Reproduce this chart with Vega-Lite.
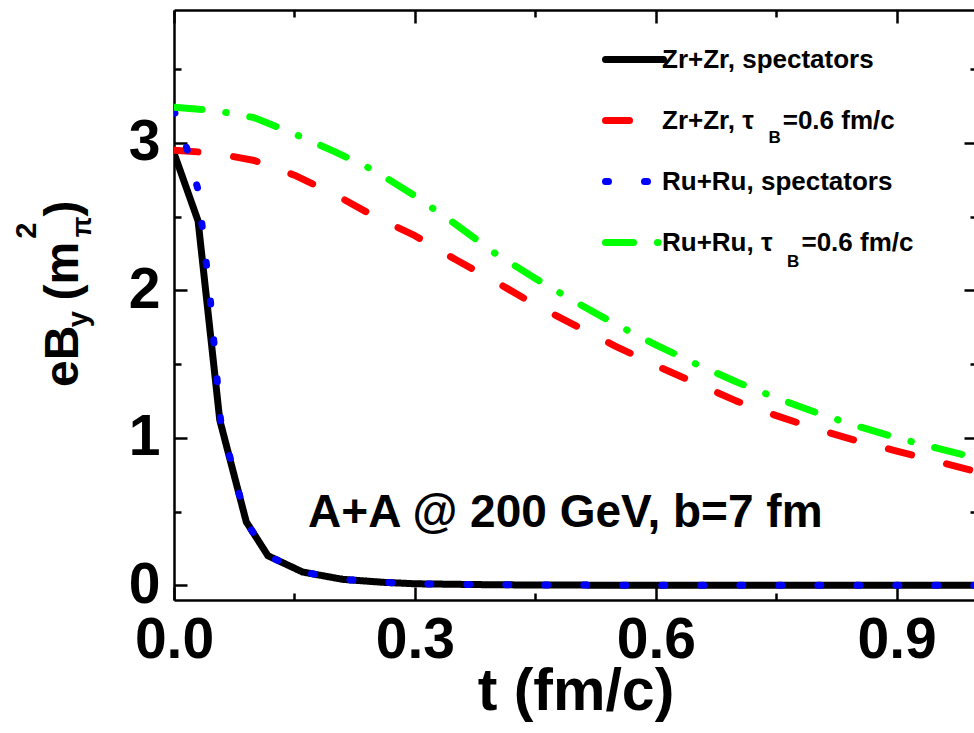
{
  "$schema": "https://vega.github.io/schema/vega-lite/v6.json",
  "width": 803,
  "height": 590,
  "autosize": {"type": "none"},
  "padding": {"left": 174, "top": 10, "right": 0, "bottom": 133},
  "background": "white",
  "config": {
    "view": {"stroke": null},
    "font": "Liberation Sans",
    "axis": {
      "domainColor": "black", "domainWidth": 2.5, "tickColor": "black", "tickWidth": 2.5,
      "labelFont": "Liberation Sans", "labelFontWeight": "bold", "labelFontSize": 57, "labelColor": "black",
      "grid": false, "titleFont": "Liberation Sans", "titleFontWeight": "bold", "titleColor": "black",
      "labelOverlap": false, "labelFlush": false
    }
  },
  "datasets": {
    "curves": [
      {"series": "Zr+Zr, spectators", "t": 0, "eB": 2.93},
      {"series": "Zr+Zr, spectators", "t": 0.03, "eB": 2.47},
      {"series": "Zr+Zr, spectators", "t": 0.057, "eB": 1.12},
      {"series": "Zr+Zr, spectators", "t": 0.09, "eB": 0.43},
      {"series": "Zr+Zr, spectators", "t": 0.117, "eB": 0.2},
      {"series": "Zr+Zr, spectators", "t": 0.16, "eB": 0.09},
      {"series": "Zr+Zr, spectators", "t": 0.21, "eB": 0.04},
      {"series": "Zr+Zr, spectators", "t": 0.26, "eB": 0.02},
      {"series": "Zr+Zr, spectators", "t": 0.3, "eB": 0.01},
      {"series": "Zr+Zr, spectators", "t": 0.4, "eB": 0.003},
      {"series": "Zr+Zr, spectators", "t": 0.5, "eB": 0.001},
      {"series": "Zr+Zr, spectators", "t": 0.6, "eB": 0},
      {"series": "Zr+Zr, spectators", "t": 0.7, "eB": 0},
      {"series": "Zr+Zr, spectators", "t": 0.8, "eB": 0},
      {"series": "Zr+Zr, spectators", "t": 0.9, "eB": 0},
      {"series": "Zr+Zr, spectators", "t": 1.0, "eB": 0},
      {"series": "Zr+Zr, τ_B=0.6 fm/c", "t": 0, "eB": 2.95},
      {"series": "Zr+Zr, τ_B=0.6 fm/c", "t": 0.05, "eB": 2.93},
      {"series": "Zr+Zr, τ_B=0.6 fm/c", "t": 0.1, "eB": 2.88},
      {"series": "Zr+Zr, τ_B=0.6 fm/c", "t": 0.15, "eB": 2.78},
      {"series": "Zr+Zr, τ_B=0.6 fm/c", "t": 0.2, "eB": 2.65},
      {"series": "Zr+Zr, τ_B=0.6 fm/c", "t": 0.25, "eB": 2.5},
      {"series": "Zr+Zr, τ_B=0.6 fm/c", "t": 0.3, "eB": 2.37},
      {"series": "Zr+Zr, τ_B=0.6 fm/c", "t": 0.35, "eB": 2.21},
      {"series": "Zr+Zr, τ_B=0.6 fm/c", "t": 0.4, "eB": 2.06},
      {"series": "Zr+Zr, τ_B=0.6 fm/c", "t": 0.45, "eB": 1.9},
      {"series": "Zr+Zr, τ_B=0.6 fm/c", "t": 0.5, "eB": 1.76},
      {"series": "Zr+Zr, τ_B=0.6 fm/c", "t": 0.55, "eB": 1.62},
      {"series": "Zr+Zr, τ_B=0.6 fm/c", "t": 0.6, "eB": 1.49},
      {"series": "Zr+Zr, τ_B=0.6 fm/c", "t": 0.65, "eB": 1.37},
      {"series": "Zr+Zr, τ_B=0.6 fm/c", "t": 0.7, "eB": 1.25},
      {"series": "Zr+Zr, τ_B=0.6 fm/c", "t": 0.75, "eB": 1.15},
      {"series": "Zr+Zr, τ_B=0.6 fm/c", "t": 0.8, "eB": 1.06},
      {"series": "Zr+Zr, τ_B=0.6 fm/c", "t": 0.85, "eB": 0.98},
      {"series": "Zr+Zr, τ_B=0.6 fm/c", "t": 0.9, "eB": 0.91},
      {"series": "Zr+Zr, τ_B=0.6 fm/c", "t": 0.95, "eB": 0.84},
      {"series": "Zr+Zr, τ_B=0.6 fm/c", "t": 1.0, "eB": 0.77},
      {"series": "Ru+Ru, spectators", "t": 0, "eB": 3.22},
      {"series": "Ru+Ru, spectators", "t": 0.015, "eB": 2.98},
      {"series": "Ru+Ru, spectators", "t": 0.03, "eB": 2.68},
      {"series": "Ru+Ru, spectators", "t": 0.045, "eB": 1.95},
      {"series": "Ru+Ru, spectators", "t": 0.058, "eB": 1.12},
      {"series": "Ru+Ru, spectators", "t": 0.09, "eB": 0.43},
      {"series": "Ru+Ru, spectators", "t": 0.117, "eB": 0.2},
      {"series": "Ru+Ru, spectators", "t": 0.16, "eB": 0.09},
      {"series": "Ru+Ru, spectators", "t": 0.21, "eB": 0.04},
      {"series": "Ru+Ru, spectators", "t": 0.26, "eB": 0.02},
      {"series": "Ru+Ru, spectators", "t": 0.3, "eB": 0.01},
      {"series": "Ru+Ru, spectators", "t": 0.4, "eB": 0.003},
      {"series": "Ru+Ru, spectators", "t": 0.5, "eB": 0.001},
      {"series": "Ru+Ru, spectators", "t": 0.6, "eB": 0},
      {"series": "Ru+Ru, spectators", "t": 0.7, "eB": 0},
      {"series": "Ru+Ru, spectators", "t": 0.8, "eB": 0},
      {"series": "Ru+Ru, spectators", "t": 0.9, "eB": 0},
      {"series": "Ru+Ru, spectators", "t": 1.0, "eB": 0},
      {"series": "Ru+Ru, τ_B=0.6 fm/c", "t": 0, "eB": 3.24},
      {"series": "Ru+Ru, τ_B=0.6 fm/c", "t": 0.05, "eB": 3.22},
      {"series": "Ru+Ru, τ_B=0.6 fm/c", "t": 0.1, "eB": 3.17},
      {"series": "Ru+Ru, τ_B=0.6 fm/c", "t": 0.15, "eB": 3.06},
      {"series": "Ru+Ru, τ_B=0.6 fm/c", "t": 0.2, "eB": 2.94},
      {"series": "Ru+Ru, τ_B=0.6 fm/c", "t": 0.25, "eB": 2.81},
      {"series": "Ru+Ru, τ_B=0.6 fm/c", "t": 0.3, "eB": 2.64},
      {"series": "Ru+Ru, τ_B=0.6 fm/c", "t": 0.35, "eB": 2.45},
      {"series": "Ru+Ru, τ_B=0.6 fm/c", "t": 0.4, "eB": 2.25},
      {"series": "Ru+Ru, τ_B=0.6 fm/c", "t": 0.45, "eB": 2.08},
      {"series": "Ru+Ru, τ_B=0.6 fm/c", "t": 0.5, "eB": 1.92},
      {"series": "Ru+Ru, τ_B=0.6 fm/c", "t": 0.55, "eB": 1.77},
      {"series": "Ru+Ru, τ_B=0.6 fm/c", "t": 0.6, "eB": 1.63},
      {"series": "Ru+Ru, τ_B=0.6 fm/c", "t": 0.65, "eB": 1.5},
      {"series": "Ru+Ru, τ_B=0.6 fm/c", "t": 0.7, "eB": 1.38},
      {"series": "Ru+Ru, τ_B=0.6 fm/c", "t": 0.75, "eB": 1.27},
      {"series": "Ru+Ru, τ_B=0.6 fm/c", "t": 0.8, "eB": 1.17},
      {"series": "Ru+Ru, τ_B=0.6 fm/c", "t": 0.85, "eB": 1.08},
      {"series": "Ru+Ru, τ_B=0.6 fm/c", "t": 0.9, "eB": 1.0},
      {"series": "Ru+Ru, τ_B=0.6 fm/c", "t": 0.95, "eB": 0.93},
      {"series": "Ru+Ru, τ_B=0.6 fm/c", "t": 1.0, "eB": 0.86}
    ],
    "one": [{"k": 1}]
  },
  "layer": [
    {
      "data": {"name": "curves"},
      "mark": {"type": "line", "strokeWidth": 7, "strokeCap": "round", "strokeJoin": "round", "clip": true},
      "encoding": {
        "x": {
          "field": "t", "type": "quantitative",
          "scale": {"domain": [0, 1], "nice": false, "zero": false},
          "axis": {
            "orient": "bottom", "values": [0, 0.15, 0.3, 0.45, 0.6, 0.75, 0.9],
            "labelExpr": "round(datum.value*100) % 30 == 0 ? format(datum.value, '.1f') : ''",
            "tickSize": {"condition": {"test": "round(datum.value*100) % 30 == 0", "value": -13}, "value": -7},
            "labelPadding": 25, "title": "t (fm/c)", "titleFontSize": 59, "titlePadding": -12
          }
        },
        "y": {
          "field": "eB", "type": "quantitative",
          "scale": {"domain": [-0.1, 3.9], "nice": false, "zero": false},
          "axis": {
            "orient": "left", "values": [0, 0.5, 1, 1.5, 2, 2.5, 3, 3.5],
            "labelExpr": "datum.value % 1 == 0 ? format(datum.value, 'd') : ''",
            "tickSize": {"condition": {"test": "datum.value % 1 == 0", "value": -13}, "value": -7},
            "labelPadding": 27, "title": null
          }
        },
        "color": {
          "field": "series", "type": "nominal",
          "scale": {
            "domain": ["Zr+Zr, spectators", "Zr+Zr, τ_B=0.6 fm/c", "Ru+Ru, spectators", "Ru+Ru, τ_B=0.6 fm/c"],
            "range": ["#000000", "#ff0000", "#0000ff", "#00ff00"]
          },
          "legend": {
            "orient": "none", "legendX": 428, "legendY": 17, "title": null,
            "symbolType": "stroke", "symbolSize": 3364, "symbolStrokeWidth": 7,
            "labelFontSize": 26, "labelFont": "Liberation Sans", "labelFontWeight": "bold", "labelColor": "black",
            "labelOffset": -5, "rowPadding": 14, "labelLimit": 400,
            "labelExpr": "replace(datum.label, '_B', '\u00a0\u00a0\u00a0\u00a0')",
            "encode": {"symbols": {"update": {"strokeCap": {"value": "round"}}}}
          }
        },
        "strokeDash": {
          "field": "series", "type": "nominal",
          "scale": {
            "domain": ["Zr+Zr, spectators", "Zr+Zr, τ_B=0.6 fm/c", "Ru+Ru, spectators", "Ru+Ru, τ_B=0.6 fm/c"],
            "range": [[1, 0], [24, 36], [3, 36], [28, 24, 0.5, 24]]
          },
          "legend": {
            "orient": "none", "legendX": 428, "legendY": 17, "title": null,
            "symbolType": "stroke", "symbolSize": 3364, "symbolStrokeWidth": 7,
            "labelFontSize": 26, "labelFont": "Liberation Sans", "labelFontWeight": "bold", "labelColor": "black",
            "labelOffset": -5, "rowPadding": 14, "labelLimit": 400,
            "labelExpr": "replace(datum.label, '_B', '\u00a0\u00a0\u00a0\u00a0')",
            "encode": {"symbols": {"update": {"strokeCap": {"value": "round"}}}}
          }
        }
      }
    },
    {
      "data": {"values": [{"t": 0, "eB": 0}]},
      "mark": {"type": "point", "opacity": 0},
      "encoding": {
        "x": {
          "field": "t", "type": "quantitative",
          "scale": {"domain": [0, 1], "nice": false, "zero": false},
          "axis": {
            "orient": "top", "values": [0, 0.15, 0.3, 0.45, 0.6, 0.75, 0.9], "labels": false, "title": null,
            "tickSize": {"condition": {"test": "round(datum.value*100) % 30 == 0", "value": -13}, "value": -7}
          }
        },
        "y": {
          "field": "eB", "type": "quantitative",
          "scale": {"domain": [-0.1, 3.9], "nice": false, "zero": false},
          "axis": {
            "orient": "right", "values": [0, 0.5, 1, 1.5, 2, 2.5, 3, 3.5], "labels": false, "title": null,
            "tickSize": {"condition": {"test": "datum.value % 1 == 0", "value": -13}, "value": -7}
          }
        }
      }
    },
    {
      "data": {"name": "one"},
      "mark": {"type": "text", "text": "A+A @ 200 GeV, b=7 fm", "font": "Liberation Sans", "fontWeight": "bold", "fontSize": 46, "align": "left", "baseline": "alphabetic", "color": "black"},
      "encoding": {"x": {"datum": 0.167, "type": "quantitative", "axis": null}, "y": {"datum": 0.395, "type": "quantitative", "axis": null}}
    },
    {
      "data": {"name": "one"},
      "mark": {"type": "text", "text": "B", "font": "Liberation Sans", "fontWeight": "bold", "fontSize": 17, "align": "center", "baseline": "middle", "color": "black"},
      "encoding": {"x": {"datum": 0.748, "type": "quantitative", "axis": null}, "y": {"datum": 3.03, "type": "quantitative", "axis": null}}
    },
    {
      "data": {"name": "one"},
      "mark": {"type": "text", "text": "B", "font": "Liberation Sans", "fontWeight": "bold", "fontSize": 17, "align": "center", "baseline": "middle", "color": "black"},
      "encoding": {"x": {"datum": 0.771, "type": "quantitative", "axis": null}, "y": {"datum": 2.19, "type": "quantitative", "axis": null}}
    },
    {
      "data": {"name": "one"},
      "mark": {"type": "text", "text": "eB", "font": "Liberation Sans", "fontWeight": "bold", "fontSize": 48, "angle": 270, "align": "left", "baseline": "alphabetic", "color": "black"},
      "encoding": {"x": {"datum": -0.12, "type": "quantitative", "axis": null}, "y": {"datum": 1.344, "type": "quantitative", "axis": null}}
    },
    {
      "data": {"name": "one"},
      "mark": {"type": "text", "text": "y", "font": "Liberation Sans", "fontWeight": "bold", "fontSize": 29, "angle": 270, "align": "left", "baseline": "alphabetic", "color": "black"},
      "encoding": {"x": {"datum": -0.107, "type": "quantitative", "axis": null}, "y": {"datum": 1.75, "type": "quantitative", "axis": null}}
    },
    {
      "data": {"name": "one"},
      "mark": {"type": "text", "text": "(m", "font": "Liberation Sans", "fontWeight": "bold", "fontSize": 48, "angle": 270, "align": "left", "baseline": "alphabetic", "color": "black"},
      "encoding": {"x": {"datum": -0.12, "type": "quantitative", "axis": null}, "y": {"datum": 1.93, "type": "quantitative", "axis": null}}
    },
    {
      "data": {"name": "one"},
      "mark": {"type": "text", "text": "2", "font": "Liberation Sans", "fontWeight": "bold", "fontSize": 29, "angle": 270, "align": "left", "baseline": "alphabetic", "color": "black"},
      "encoding": {"x": {"datum": -0.172, "type": "quantitative", "axis": null}, "y": {"datum": 2.35, "type": "quantitative", "axis": null}}
    },
    {
      "data": {"name": "one"},
      "mark": {"type": "text", "text": "π", "font": "Liberation Sans", "fontWeight": "bold", "fontSize": 27, "angle": 270, "align": "left", "baseline": "alphabetic", "color": "black"},
      "encoding": {"x": {"datum": -0.103, "type": "quantitative", "axis": null}, "y": {"datum": 2.36, "type": "quantitative", "axis": null}}
    },
    {
      "data": {"name": "one"},
      "mark": {"type": "text", "text": ")", "font": "Liberation Sans", "fontWeight": "bold", "fontSize": 48, "angle": 270, "align": "left", "baseline": "alphabetic", "color": "black"},
      "encoding": {"x": {"datum": -0.12, "type": "quantitative", "axis": null}, "y": {"datum": 2.5, "type": "quantitative", "axis": null}}
    }
  ],
  "resolve": {"axis": {"x": "independent", "y": "independent"}}
}
